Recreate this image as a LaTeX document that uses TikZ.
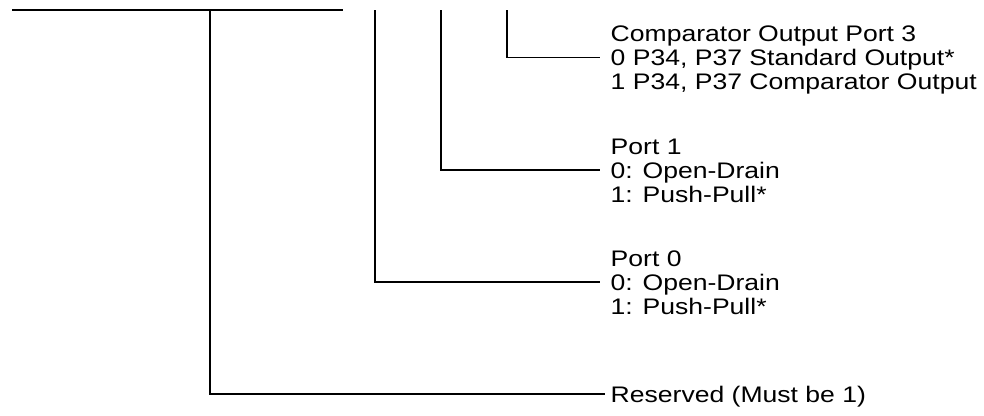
\documentclass[tikz,border=0pt]{standalone}
\usepackage{fontspec}
\setmainfont[FakeStretch=1.18]{Liberation Sans}
\begin{document}
\begin{tikzpicture}[x=1pt,y=-1pt,
  wire/.style={draw=black,line width=1.1pt},
  thickwire/.style={draw=black,line width=1.8pt},
  lbl/.style={anchor=base west,inner xsep=10.5pt,inner ysep=0pt,text height=16pt,text depth=0pt,
    font=\fontsize{22.5}{24}\selectfont,text=black}]
\useasboundingbox (0,0) rectangle (984,415);
% text
\node[lbl] (c3t) at (600,41.5) {Comparator Output Port 3};
\node[lbl] (c3a) at (600,65.5) {0 P34, P37 Standard Output*};
\node[lbl] (c3b) at (600,89.5) {1 P34, P37 Comparator Output};
\node[lbl] (p1t) at (600,154) {Port 1};
\node[lbl] (p1a) at (600,178) {0: Open-Drain};
\node[lbl] (p1b) at (600,202) {1: Push-Pull*};
\node[lbl] (p0t) at (600,266) {Port 0};
\node[lbl] (p0a) at (600,290) {0: Open-Drain};
\node[lbl] (p0b) at (600,314) {1: Push-Pull*};
\node[lbl] (rsv) at (600,402) {Reserved (Must be 1)};
% coordinates at the top
\coordinate (hl0) at (12,10);
\coordinate (hl1) at (144,10);
\coordinate (hl2) at (343,10);
\coordinate (v7) at (210,10);
\coordinate (v0) at (375,10);
\coordinate (v0k) at (375,57);
\coordinate (v1) at (441,10);
\coordinate (v3) at (507,10);
% lines
\draw[thickwire] (hl0) -- (hl1);
\draw[wire] (hl1) -- (hl2);
\draw[wire] (v3) |- (c3a.west);
\draw[wire] (v1) |- (p1a.west);
\draw[wire] (v0) |- (p0a.west);
\draw[thickwire] (v0) -- (v0k);
\draw[wire] (v7) |- ([xshift=5pt]rsv.west);
\end{tikzpicture}
\end{document}
